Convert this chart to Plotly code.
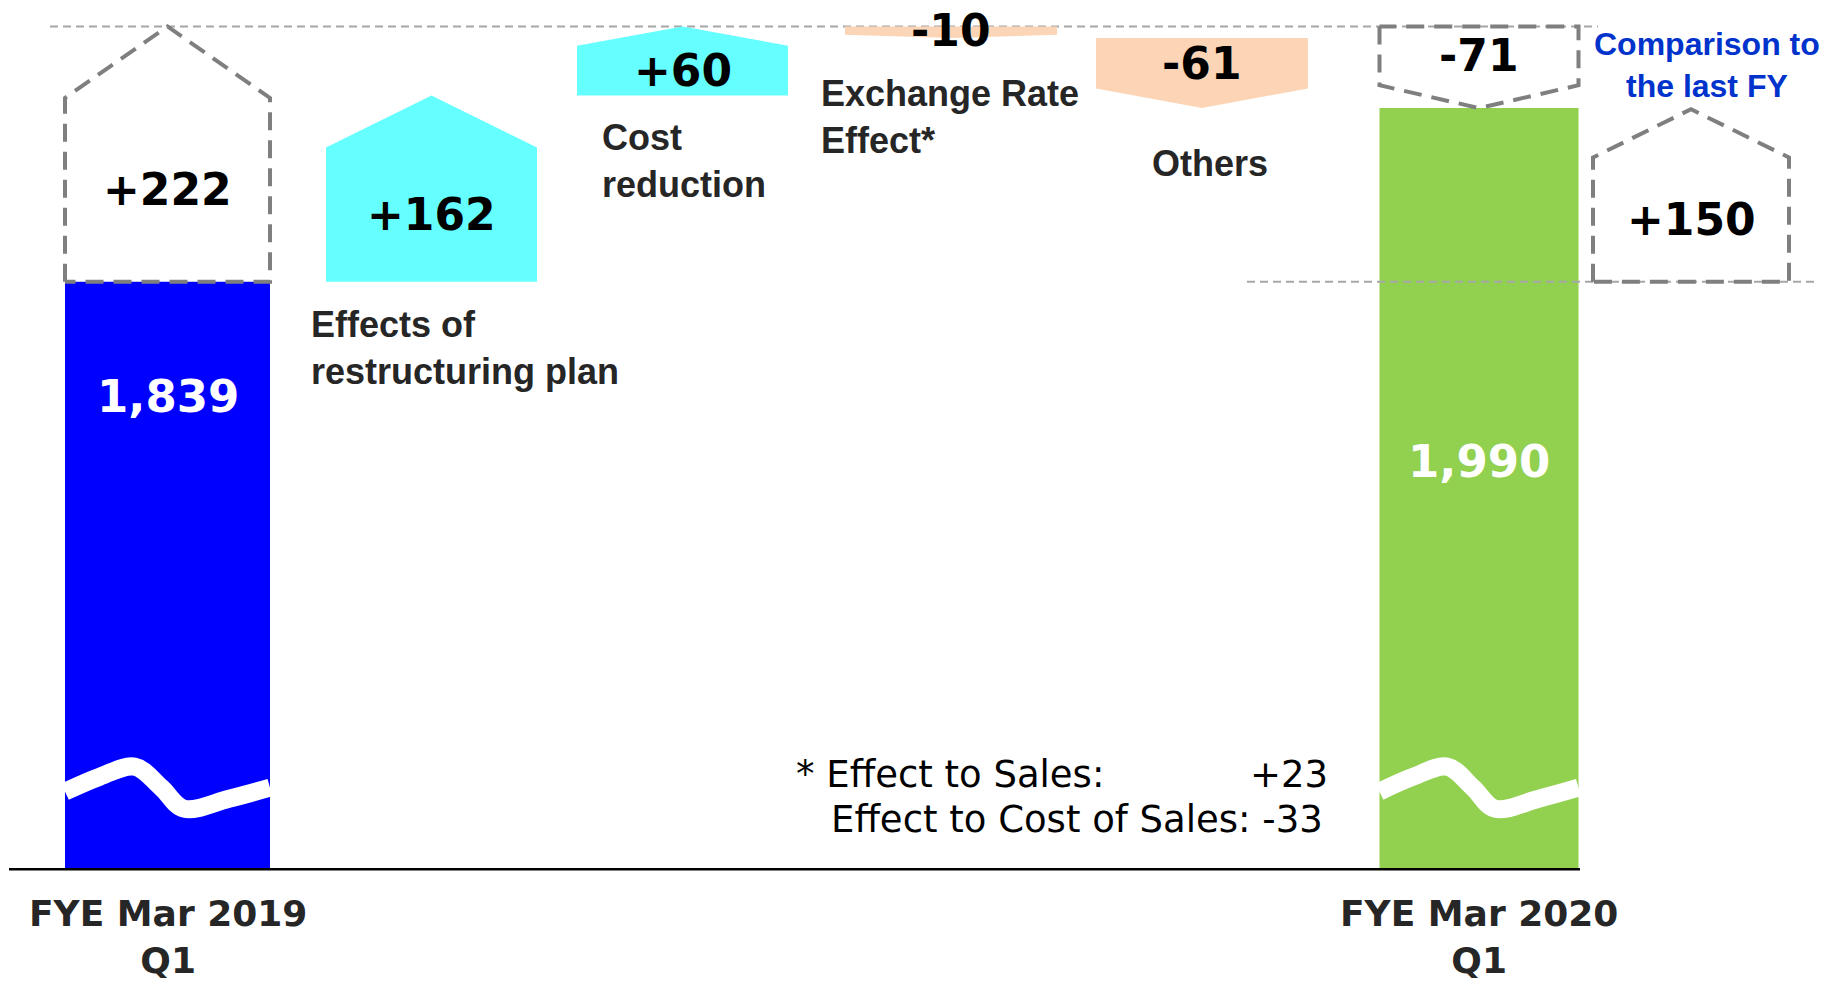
import plotly.graph_objects as go

# --- data ---------------------------------------------------------------
PREV_LABEL = "FYE Mar 2019<br>Q1"
CURR_LABEL = "FYE Mar 2020<br>Q1"
PREV_VALUE = 1839
CURR_VALUE = 1990

FACTORS = ["Effects of<br>restructuring plan", "Cost<br>reduction",
           "Exchange Rate<br>Effect*", "Others"]
FACTOR_VALUES = [162, 60, -10, -61]

POS_TOTAL = 222      # sum of the increases
NEG_TOTAL = -71      # sum of the decreases
YOY_CHANGE = 150     # comparison to the last FY

FX_NOTES = ["* Effect to Sales:", "Effect to Cost of Sales:"]
FX_VALUES = [23, -33]

# --- layout / style ------------------------------------------------------
W, H = 1831, 982
Y_TOP, Y_BOTTOM = 2084, 1230      # value axis range (axis is broken)
AXIS_FLOOR = 1328                 # where the broken axis line sits
PX = H / (Y_TOP - Y_BOTTOM)       # pixels per unit
HEAD = 0.28                       # arrow head as share of arrow length

BAR_X = [167.5, 1479]
BAR_W = [205, 199]
FACTOR_X = [431.5, 682.5, 951, 1202]
FACTOR_W = [211, 211, 212, 212]
CMP_X, CMP_W = 1691, 196

BLUE, GREEN = "#0000FF", "#92D050"
UP, DOWN = "#66FFFF", "#FBD5B5"
GREY = "#7F7F7F"
TXT = "#262626"

WAVE_LEVEL = 1399
WAVE_F = [0, 0.17, 0.34, 0.47, 0.58, 0.8, 1]
WAVE_DY = [-4, 11, 21, 0, -21, -11, 0]   # px


def arrow(xc, w, start, end):
    xl, xr = xc - w / 2, xc + w / 2
    neck = end - HEAD * (end - start)
    return [xl, xl, xc, xr, xr, xl], [start, neck, end, neck, start, start]


fig = go.Figure()

# guide lines
top_level = PREV_VALUE + POS_TOTAL
fig.add_trace(go.Scatter(x=[50, 1598], y=[top_level, top_level], mode="lines",
                         line=dict(color="#A6A6A6", width=2, dash="8px,5px")))
fig.add_trace(go.Scatter(x=[1247, 1816], y=[PREV_VALUE, PREV_VALUE], mode="lines",
                         line=dict(color="#A6A6A6", width=2, dash="8px,5px")))

# the two totals
fig.add_trace(go.Bar(x=BAR_X, y=[PREV_VALUE - AXIS_FLOOR, CURR_VALUE - AXIS_FLOOR],
                     base=AXIS_FLOOR, width=BAR_W,
                     marker=dict(color=[BLUE, GREEN], line=dict(width=0))))

# axis break waves
for xc, w in zip(BAR_X, BAR_W):
    fig.add_trace(go.Scatter(
        x=[xc - w / 2 + f * w for f in WAVE_F],
        y=[WAVE_LEVEL + d / PX for d in WAVE_DY],
        mode="lines", line=dict(color="white", width=18, shape="spline")))

# factor arrows
level = PREV_VALUE
for xc, w, v in zip(FACTOR_X, FACTOR_W, FACTOR_VALUES):
    xs, ys = arrow(xc, w, level, level + v)
    fig.add_trace(go.Scatter(x=xs, y=ys, mode="lines", fill="toself",
                             fillcolor=UP if v > 0 else DOWN, line=dict(width=0)))
    level += v

# dashed summary boxes
boxes = [
    (BAR_X[0], BAR_W[0], PREV_VALUE, PREV_VALUE + POS_TOTAL),
    (BAR_X[1], BAR_W[1], PREV_VALUE + POS_TOTAL, PREV_VALUE + POS_TOTAL + NEG_TOTAL),
    (CMP_X, CMP_W, PREV_VALUE, PREV_VALUE + YOY_CHANGE),
]
for xc, w, a, b in boxes:
    xs, ys = arrow(xc, w, a, b)
    fig.add_trace(go.Scatter(x=xs, y=ys, mode="lines",
                             line=dict(color=GREY, width=4, dash="18px,10px")))

# broken axis line
fig.add_trace(go.Scatter(x=[9, 1580], y=[AXIS_FLOOR, AXIS_FLOOR], mode="lines",
                         line=dict(color="black", width=2.5)))

big = dict(family="DejaVu Sans", size=44, color="black", weight="bold")


def mid(a, b):
    neck = b - HEAD * (b - a)
    return (a + neck) / 2


# value labels inside arrows / boxes
level = PREV_VALUE
for xc, v in zip(FACTOR_X, FACTOR_VALUES):
    fig.add_annotation(x=xc, y=mid(level, level + v), text=f"{v:+d}",
                       showarrow=False, font=big)
    level += v
for (xc, w, a, b), v in zip(boxes, [POS_TOTAL, NEG_TOTAL, YOY_CHANGE]):
    fig.add_annotation(x=xc, y=mid(a, b), text=f"{v:+d}", showarrow=False, font=big)

# totals inside bars
for xc, v, off in zip(BAR_X, [PREV_VALUE, CURR_VALUE], [115, 353]):
    fig.add_annotation(x=xc, y=v, yshift=-off, text=f"{v:,}", showarrow=False,
                       font=dict(family="DejaVu Sans", size=45, color="white", weight="bold"))

# factor names
name_font = dict(family="Liberation Sans", size=36, color=TXT, weight="bold")
LABEL_X = [309, 600, 819, 1210]
LABEL_ANCHOR = ["left", "left", "left", "center"]
LABEL_GAP = [20, 20, 33, 33]
level = PREV_VALUE
for name, v, lx, anc, gap in zip(FACTORS, FACTOR_VALUES, LABEL_X, LABEL_ANCHOR, LABEL_GAP):
    low = min(level, level + v)
    fig.add_annotation(x=lx, y=low, yshift=-gap, xanchor=anc, yanchor="top",
                       align=anc, text=name, showarrow=False, font=name_font)
    level += v

fig.add_annotation(x=1707, y=PREV_VALUE + YOY_CHANGE, yshift=3, yanchor="bottom",
                   text="Comparison to<br>the last FY", showarrow=False,
                   font=dict(family="Liberation Sans", size=32, color="#0033CC", weight="bold"))

# period labels
for xc, lab in zip(BAR_X, [PREV_LABEL, CURR_LABEL]):
    fig.add_annotation(x=xc, y=AXIS_FLOOR, yshift=-22, yanchor="top", text=lab,
                       showarrow=False,
                       font=dict(family="DejaVu Sans", size=36, color=TXT, weight="bold"))

# footnote on exchange rate effect
note_font = dict(family="DejaVu Sans", size=37, color="black")
fig.add_annotation(x=794, y=1 - 774 / H, yref="paper", xanchor="left", yanchor="middle",
                   text=FX_NOTES[0], showarrow=False, font=note_font)
fig.add_annotation(x=1330, y=1 - 774 / H, yref="paper", xanchor="right", yanchor="middle",
                   text=f"{FX_VALUES[0]:+d}", showarrow=False, font=note_font)
fig.add_annotation(x=829, y=1 - 819 / H, yref="paper", xanchor="left", yanchor="middle",
                   text=f"{FX_NOTES[1]} {FX_VALUES[1]:+d}", showarrow=False, font=note_font)

fig.update_layout(
    width=W, height=H, margin=dict(l=0, r=0, t=0, b=0),
    plot_bgcolor="white", paper_bgcolor="white", showlegend=False,
    xaxis=dict(range=[0, W], visible=False, fixedrange=True),
    yaxis=dict(range=[Y_BOTTOM, Y_TOP], visible=False, fixedrange=True),
)

fig.write_html("out.html", config={"displayModeBar": False},
               post_script="document.body.style.margin='0px';")
